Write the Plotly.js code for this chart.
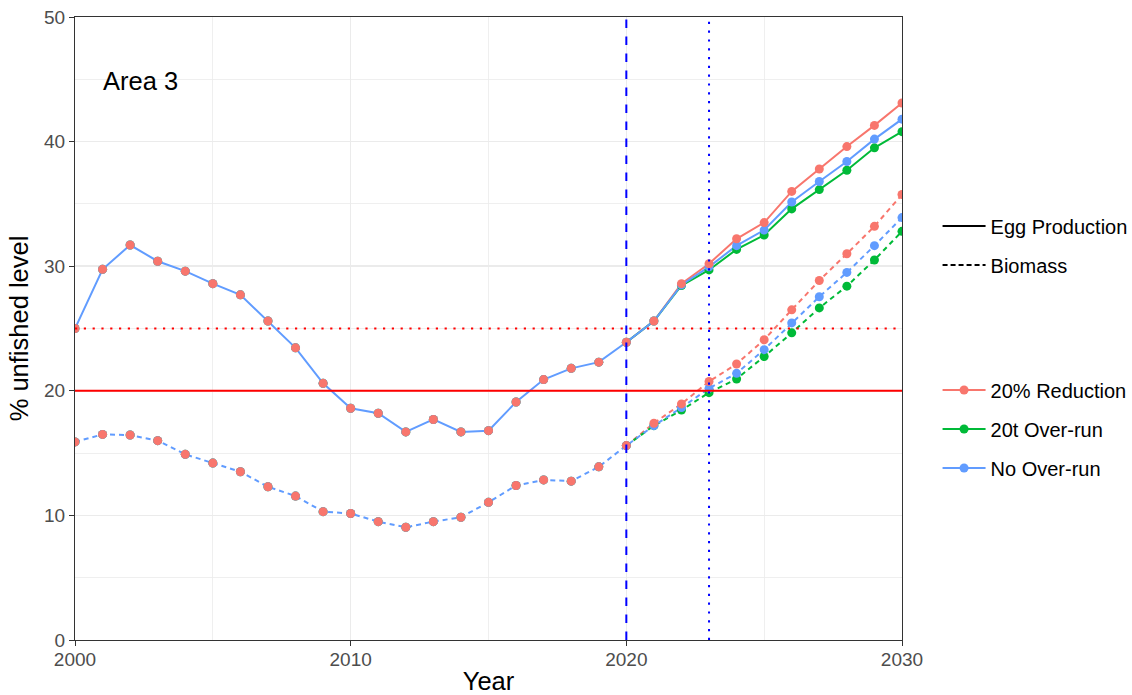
<!DOCTYPE html>
<html><head><meta charset="utf-8">
<script src="https://cdn.plot.ly/plotly-3.0.1.min.js"></script>
<style>html,body{margin:0;padding:0;background:#fff}</style>
</head><body><div id="chart" style="width:1132px;height:695px"></div>
<script>
// ---- data ----
const histYears = [2000,2001,2002,2003,2004,2005,2006,2007,2008,2009,2010,2011,2012,2013,2014,2015,2016,2017,2018,2019,2020];
const projYears = [2021,2022,2023,2024,2025,2026,2027,2028,2029,2030];
const eggHist = [25.0,29.75,31.7,30.4,29.6,28.6,27.7,25.6,23.45,20.6,18.6,18.2,16.7,17.7,16.7,16.8,19.1,20.9,21.8,22.3,23.9];
const bioHist = [15.9,16.5,16.45,16.0,14.9,14.2,13.5,12.3,11.55,10.3,10.15,9.5,9.05,9.5,9.85,11.05,12.4,12.85,12.75,13.9,15.6];
const scenarios = ['20% Reduction','20t Over-run','No Over-run'];
const scenarioColors = ['#F8766D','#00BA38','#619CFF'];
const eggProjReduction = [25.6,28.6,30.2,32.2,33.5,36.0,37.8,39.6,41.3,43.1];
const eggProjOverrun   = [25.6,28.45,29.7,31.35,32.5,34.6,36.15,37.7,39.5,40.8];
const eggProjNoOverrun = [25.6,28.5,29.95,31.65,32.9,35.15,36.8,38.4,40.2,41.8];
const bioProjReduction = [17.4,18.95,20.75,22.15,24.1,26.5,28.85,31.0,33.2,35.75];
const bioProjOverrun   = [17.2,18.45,19.85,20.95,22.75,24.65,26.65,28.4,30.5,32.8];
const bioProjNoOverrun = [17.2,18.65,20.2,21.4,23.3,25.45,27.55,29.5,31.65,33.9];
const measureLabels = ['Egg Production','Biomass'];
const refLevels = [20, 25];     // solid, dotted (red)
const refYears = [2020, 2023];  // dashed, dotted (blue)
const areaLabel = 'Area 3';
const xTicks = [2000,2010,2020,2030];
const yTicks = [0,10,20,30,40,50];

// ---- build ----
const years = histYears.concat(projYears);
const lastHist = histYears.length - 1;
const eggProj = [eggProjReduction, eggProjOverrun, eggProjNoOverrun];
const bioProj = [bioProjReduction, bioProjOverrun, bioProjNoOverrun];
const FONT = 'Liberation Sans, Arial, sans-serif';
const DASH = '5px,4px';
const traces = [];
// lines: red, green (projection only), blue full (on top)
[0,1,2].forEach(i => {
  const full = (i === 2);
  const xs = full ? years : [histYears[lastHist]].concat(projYears);
  const ye = full ? eggHist.concat(eggProj[i]) : [eggHist[lastHist]].concat(eggProj[i]);
  const yb = full ? bioHist.concat(bioProj[i]) : [bioHist[lastHist]].concat(bioProj[i]);
  traces.push({x: xs, y: ye, mode: 'lines', type: 'scatter',
    line: {color: scenarioColors[i], width: 2}, showlegend: false, hoverinfo: 'skip'});
  traces.push({x: xs, y: yb, mode: 'lines', type: 'scatter',
    line: {color: scenarioColors[i], width: 2, dash: DASH}, showlegend: false, hoverinfo: 'skip'});
});
// markers: green, blue, red (red on top)
[1,2,0].forEach(i => {
  traces.push({x: years, y: eggHist.concat(eggProj[i]), mode: 'markers', type: 'scatter',
    marker: {color: scenarioColors[i], size: 9}, showlegend: false});
  traces.push({x: years, y: bioHist.concat(bioProj[i]), mode: 'markers', type: 'scatter',
    marker: {color: scenarioColors[i], size: 9}, showlegend: false});
});
// legend entries
const legendIds = ['legend','legend2','legend3','legend4','legend5'];
traces.push({x: [null], y: [null], mode: 'lines', type: 'scatter', name: measureLabels[0],
  line: {color: '#000', width: 2}, legend: legendIds[0], showlegend: true});
traces.push({x: [null], y: [null], mode: 'lines', type: 'scatter', name: measureLabels[1],
  line: {color: '#000', width: 2, dash: '5px,3px'}, legend: legendIds[1], showlegend: true});
scenarios.forEach((s, i) => {
  traces.push({x: [null], y: [null], mode: 'lines+markers', type: 'scatter', name: s,
    line: {color: scenarioColors[i], width: 2}, marker: {color: scenarioColors[i], size: 9},
    legend: legendIds[2+i], showlegend: true});
});

const shapes = [
  {type: 'line', xref: 'paper', x0: 0, x1: 1, yref: 'y', y0: refLevels[0], y1: refLevels[0],
    line: {color: '#FF0000', width: 2}, layer: 'above'},
  {type: 'line', xref: 'paper', x0: 0, x1: 1, yref: 'y', y0: refLevels[1], y1: refLevels[1],
    line: {color: '#FF0000', width: 2, dash: '2.2px,6.6px'}, layer: 'above'},
  {type: 'line', xref: 'x', x0: refYears[0], x1: refYears[0], yref: 'paper', y0: 0, y1: 1,
    line: {color: '#0000FF', width: 2, dash: '8.5px,8.5px'}, layer: 'above'},
  {type: 'line', xref: 'x', x0: refYears[1], x1: refYears[1], yref: 'paper', y0: 0, y1: 1,
    line: {color: '#0000FF', width: 2, dash: '2.2px,6.6px'}, layer: 'above'}
];

const legendX = 1.043;
const legendYs = [0.6645, 0.6019, 0.4013, 0.3387, 0.2761];
const layout = {
  width: 1132, height: 695,
  margin: {l: 75, r: 230, t: 17, b: 55, autoexpand: false},
  paper_bgcolor: '#fff', plot_bgcolor: '#fff',
  font: {family: FONT, color: '#000'},
  xaxis: {range: [2000, 2030], tickvals: xTicks, ticktext: xTicks.map(String),
    showgrid: true, gridcolor: '#EBEBEB', gridwidth: 1.5,
    minor: {dtick: 5, tick0: 2000, showgrid: true, gridcolor: '#EBEBEB', gridwidth: 0.8},
    zeroline: false, showline: true, mirror: true, linecolor: '#333333', linewidth: 1,
    ticks: 'outside', ticklen: 5, tickcolor: '#333333', tickwidth: 1, ticklabelstandoff: -3,
    tickfont: {family: FONT, size: 19, color: '#4D4D4D'},
    title: {text: 'Year', font: {family: FONT, size: 25.5, color: '#000'}, standoff: 13}},
  yaxis: {range: [0, 50], tickvals: yTicks, ticktext: yTicks.map(String),
    showgrid: true, gridcolor: '#EBEBEB', gridwidth: 1.5,
    minor: {dtick: 5, tick0: 0, showgrid: true, gridcolor: '#EBEBEB', gridwidth: 0.8},
    zeroline: false, showline: true, mirror: true, linecolor: '#333333', linewidth: 1,
    ticks: 'outside', ticklen: 5, tickcolor: '#333333', tickwidth: 1,
    tickfont: {family: FONT, size: 19, color: '#4D4D4D'},
    title: {text: '% unfished level', font: {family: FONT, size: 25.5, color: '#000'}, standoff: 8}},
  shapes: shapes,
  annotations: [{x: 2002.36, y: 44.9, xref: 'x', yref: 'y', text: areaLabel, showarrow: false,
    font: {family: FONT, size: 25.5, color: '#000'}, xanchor: 'center', yanchor: 'middle'}],
  showlegend: true
};
legendIds.forEach((id, k) => {
  layout[id] = {x: legendX, y: legendYs[k], xanchor: 'left', yanchor: 'middle',
    bgcolor: 'rgba(0,0,0,0)', borderwidth: 0, itemwidth: 43,
    font: {family: FONT, size: 20, color: '#000'}};
});

Plotly.newPlot('chart', traces, layout, {displayModeBar: false, staticPlot: true});
</script>
</body></html>
